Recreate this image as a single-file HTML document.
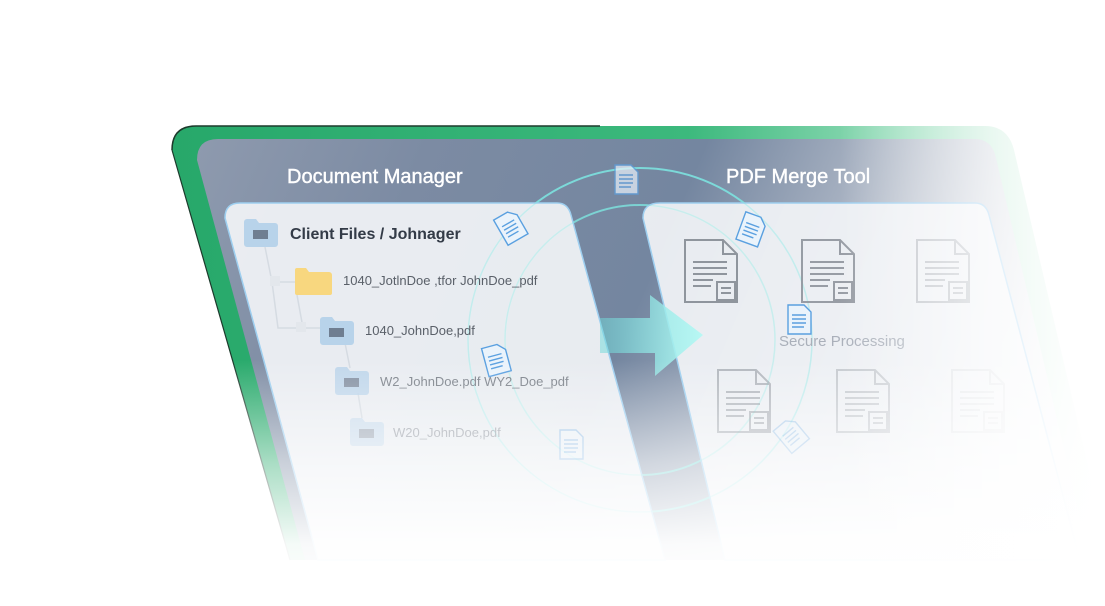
<!DOCTYPE html>
<html><head><meta charset="utf-8"><style>
html,body{margin:0;padding:0;background:#fff;}
svg{display:block;}
text{font-family:"Liberation Sans","DejaVu Sans",sans-serif;}
</style></head><body>
<svg width="1105" height="606" viewBox="0 0 1105 606" xmlns="http://www.w3.org/2000/svg">
<defs>
<linearGradient id="gframe" x1="0" y1="0" x2="1" y2="0">
<stop offset="0" stop-color="#27a86a"/><stop offset="0.55" stop-color="#3cb97d"/><stop offset="0.8" stop-color="#9fe0c0"/><stop offset="1" stop-color="#eef9f3"/>
</linearGradient>
<linearGradient id="gpanel" x1="0" y1="0" x2="1" y2="0.2">
<stop offset="0" stop-color="#8e9aae"/><stop offset="0.25" stop-color="#7c8ba3"/><stop offset="0.55" stop-color="#7486a0"/><stop offset="0.8" stop-color="#bcc3cf"/><stop offset="1" stop-color="#eceef2"/>
</linearGradient>
<linearGradient id="gfadeV" x1="0" y1="0" x2="0" y2="1">
<stop offset="0" stop-color="#fff" stop-opacity="0"/><stop offset="0.45" stop-color="#fff" stop-opacity="0.6"/><stop offset="0.8" stop-color="#fff" stop-opacity="0.95"/><stop offset="1" stop-color="#fff" stop-opacity="1"/>
</linearGradient>
<linearGradient id="gfadeH" x1="0" y1="0" x2="1" y2="0">
<stop offset="0" stop-color="#fff" stop-opacity="0"/><stop offset="0.6" stop-color="#fff" stop-opacity="0.7"/><stop offset="1" stop-color="#fff" stop-opacity="1"/>
</linearGradient>
<linearGradient id="garrow" x1="0" y1="0" x2="1" y2="0">
<stop offset="0" stop-color="#6fd8d8" stop-opacity="0.5"/><stop offset="1" stop-color="#b8f8f4"/>
</linearGradient>
<g id="folder">
<path d="M0,3 a3,3 0 0 1 3,-3 h9 l3,4 h16 a3,3 0 0 1 3,3 v18 a3,3 0 0 1 -3,3 h-28 a3,3 0 0 1 -3,-3z" fill="#b8d3ea"/>
<rect x="9" y="11" width="15" height="9" fill="#6f7e91"/>
</g>
<g id="doc" fill="none" stroke="#8f959d" stroke-width="2">
<path d="M2,2 h38 l14,14 v48 h-52z"/><path d="M40,2 v14 h14"/>
<path d="M10,24 h34 M10,30 h34 M10,36 h34 M10,42 h20 M10,48 h18"/>
<rect x="34" y="44" width="18" height="18"/><path d="M38,50 h10 M38,55 h10"/>
</g>
<g id="mini" fill="#eaf3fb" stroke="#5aa0e0" stroke-width="1.4">
<path d="M0,0 h16 l7,7 v22 h-23z"/><path d="M4,10 h14 M4,14 h14 M4,18 h14 M4,22 h12" fill="none"/>
</g>
</defs>
<path d="M172,150 Q172,126 196,126 L985,126 Q1008,126 1014,150 L1110,560 L290,560 Z" fill="url(#gframe)"/>
<path d="M172,150 Q172,126 196,126 L600,126" fill="none" stroke="#1d3a2c" stroke-width="1.5"/>
<path d="M172,150 L290,560" stroke="#1d3a2c" stroke-width="1.2"/>
<path d="M197,160 Q197,139 218,139 L975,139 Q992,139 996,158 L1090,560 L305,560 Z" fill="url(#gpanel)"/>
<circle cx="640" cy="340" r="172" fill="none" stroke="#7de3df" stroke-width="2" opacity="0.85"/>
<circle cx="640" cy="340" r="135" fill="none" stroke="#7de3df" stroke-width="2" opacity="0.75"/>
<path d="M225,218 Q225,203 240,203 L557,203 Q568,203 571,215 L665,560 L318,560 Z" fill="#f1f3f6" fill-opacity="0.93" stroke="#9ecff0" stroke-width="1.5"/>
<path d="M643,218 Q643,203 660,203 L975,203 Q986,203 989,215 L1080,560 L725,560 Z" fill="#f1f3f6" fill-opacity="0.93" stroke="#9ecff0" stroke-width="1.5"/>
<circle cx="640" cy="340" r="172" fill="none" stroke="#7de3df" stroke-width="1.5" opacity="0.35"/>
<circle cx="640" cy="340" r="135" fill="none" stroke="#7de3df" stroke-width="1.5" opacity="0.3"/>
<path d="M600,318 L650,318 L650,295 L703,335 L655,376 L655,353 L600,353 Z" fill="url(#garrow)"/>
<text x="287" y="183" font-size="20" fill="#ffffff" stroke="#ffffff" stroke-width="0.4">Document Manager</text>
<text x="726" y="183" font-size="20" fill="#ffffff" stroke="#ffffff" stroke-width="0.4">PDF Merge Tool</text>
<g stroke="#d5dbe2" stroke-width="1.5" fill="none">
<path d="M265,247 L272,282 L295,282"/><path d="M272,282 L278,328 L320,328"/>
<path d="M297,295 L303,328"/><path d="M345,343 L350,368"/><path d="M358,393 L362,418"/>
</g>
<rect x="270" y="276" width="10" height="10" fill="#e3e7ec"/><rect x="296" y="322" width="10" height="10" fill="#e3e7ec"/>
<use href="#folder" x="244" y="219"/>
<text x="290" y="239" font-size="16" font-weight="bold" fill="#333b47">Client Files / Johnager</text>
<path d="M295,270 a2,2 0 0 1 2,-2 h9 l3,4 h20 a3,3 0 0 1 3,3 v18 a2,2 0 0 1 -2,2 h-33 a2,2 0 0 1 -2,-2z" fill="#f8d77f"/>
<text x="343" y="285" font-size="13" fill="#5a6069">1040_JotlnDoe ,tfor JohnDoe_pdf</text>
<use href="#folder" x="320" y="317"/>
<text x="365" y="335" font-size="13" fill="#5a6069">1040_JohnDoe,pdf</text>
<use href="#folder" x="335" y="367" opacity="0.8"/>
<text x="380" y="386" font-size="13" fill="#6a7079" opacity="0.85">W2_JohnDoe.pdf  WY2_Doe_pdf</text>
<use href="#folder" x="350" y="418" opacity="0.6"/>
<text x="393" y="437" font-size="13" fill="#8a9099" opacity="0.8">W20_JohnDoe,pdf</text>
<use href="#doc" x="683" y="238"/>
<use href="#doc" x="800" y="238" opacity="0.9"/>
<use href="#doc" x="915" y="238" opacity="0.5"/>
<use href="#doc" x="716" y="368" opacity="0.6"/>
<use href="#doc" x="835" y="368" opacity="0.4"/>
<use href="#doc" x="950" y="368" opacity="0.2"/>
<text x="779" y="346" font-size="15" fill="#aab0ba">Secure Processing</text>
<use href="#mini" x="500" y="212" transform="rotate(-30 512 228)"/>
<use href="#mini" x="740" y="215" transform="rotate(20 752 230)"/>
<use href="#mini" x="615" y="165" opacity="0.7"/>
<use href="#mini" x="485" y="345" transform="rotate(-15 497 360)"/>
<use href="#mini" x="788" y="305"/>
<use href="#mini" x="560" y="430" opacity="0.5"/>
<use href="#mini" x="780" y="420" opacity="0.4" transform="rotate(-40 792 435)"/>
<rect x="0" y="360" width="1105" height="230" fill="url(#gfadeV)"/>
<rect x="0" y="588" width="1105" height="18" fill="#fff"/>
<rect x="840" y="120" width="265" height="470" fill="url(#gfadeH)"/>
</svg>
</body></html>
